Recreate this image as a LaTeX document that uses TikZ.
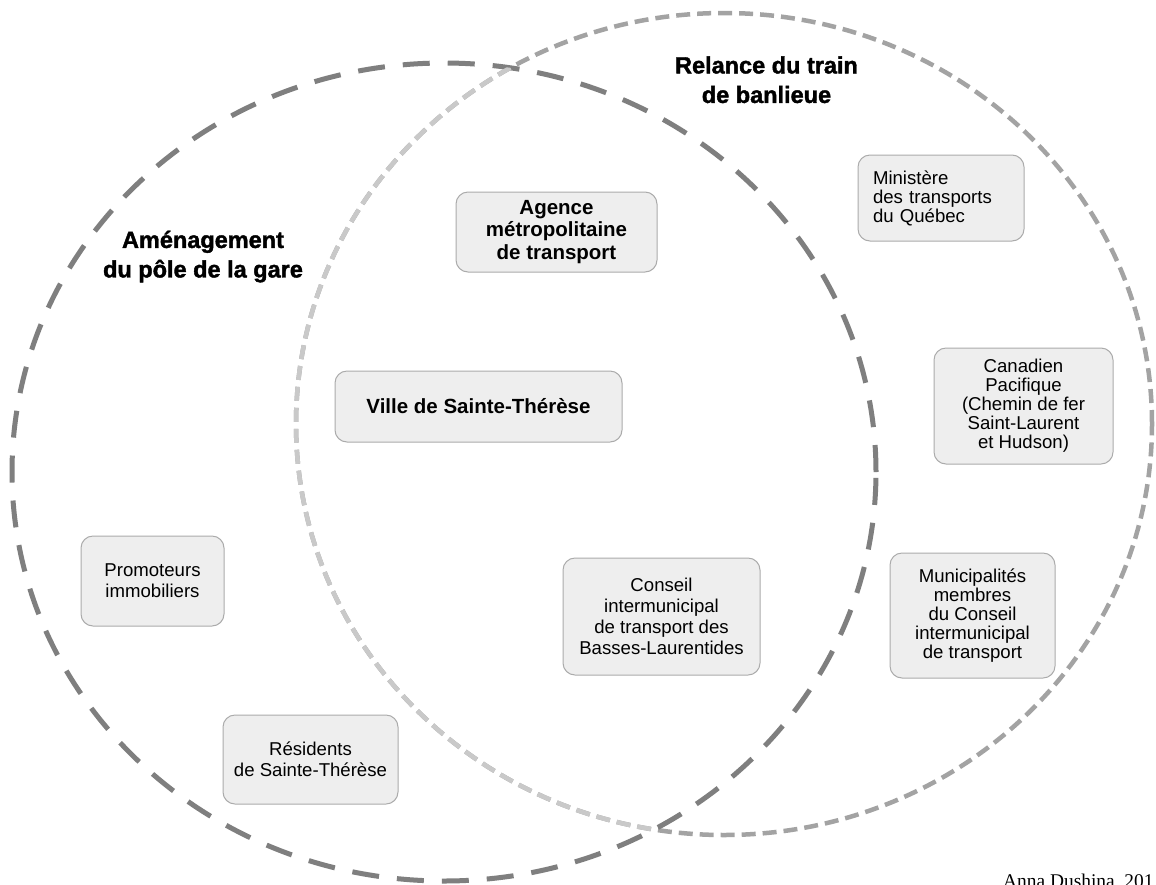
\documentclass[tikz,border=0pt]{standalone}
\usepackage{fontspec}
\setmainfont{Liberation Sans}
\newfontfamily\creditfont{Liberation Serif}
\newfontfamily\headfont[FakeBold=1.6]{Liberation Sans}
\definecolor{boxfill}{HTML}{EEEEEE}
\definecolor{boxline}{HTML}{ABABAB}
\definecolor{ringdark}{HTML}{7F7F7F}
\definecolor{ringmid}{HTML}{A3A3A3}
\definecolor{ringlight}{HTML}{C9C9C9}
\tikzset{
  actor/.style={draw=boxline, line width=1pt, fill=boxfill, rounded corners=12pt,
    inner sep=0pt, align=center, font=\fontsize{18.6}{21}\selectfont},
  actortight/.style={actor, font=\fontsize{18.6}{19}\selectfont},
  actorbold/.style={actor, font=\bfseries\fontsize{20.5}{22.5}\selectfont},
  heading/.style={align=center, inner sep=0pt, anchor=north,
    font=\headfont\bfseries\fontsize{23.5}{29.5}\selectfont},
  ringL/.style={draw=ringdark, line width=5pt, dash pattern=on 27pt off 18pt},
  ringR/.style={draw=ringmid, line width=4.5pt, dash pattern=on 14pt off 7pt},
  ringRlight/.style={ringR, draw=ringlight},
}
\begin{document}
\begin{tikzpicture}[x=1pt, y=-1pt]
\useasboundingbox (0,0) rectangle (1156,884);
\fill[white] (0,0) rectangle (1156,884);

% circles
\draw[ringR] (724,424) ellipse [x radius=428pt, y radius=411pt];
\draw[ringL] (444,472) ellipse [x radius=432pt, y radius=409pt];
\begin{scope}
  \clip (444,472) ellipse [x radius=432pt, y radius=409pt];
  \draw[ringRlight] (724,424) ellipse [x radius=428pt, y radius=411pt];
\end{scope}

% headings
\node[heading] (hrel) at (766.5,56.2) {Relance du train\\de banlieue};
\node[heading] (hame) at (203,230.5) {Aménagement\\du pôle de la gare};

% actors
\node[actorbold, minimum width=201pt, minimum height=80pt] (amt) at (556.5,232)
  {Agence\\métropolitaine\\de transport};
\node[actorbold, minimum width=287pt, minimum height=71pt] (ville) at (478.5,406.5)
  {Ville de Sainte-Thérèse};
\node[actortight, align=left, text width=136pt, inner xsep=15pt, minimum height=86pt] (mtq) at (941,198)
  {Ministère\\des transports\\du Québec};
\node[actortight, minimum width=179pt, minimum height=116pt] (cp) at (1023.5,406)
  {Canadien\\Pacifique\\(Chemin de fer\\Saint-Laurent\\et Hudson)};
\node[actortight, minimum width=165pt, minimum height=125pt] (muni) at (972.5,615.5)
  {Municipalités\\membres\\du Conseil\\intermunicipal\\de transport};
\node[actor, minimum width=197pt, minimum height=117pt] (citl) at (661.5,616.5)
  {Conseil\\intermunicipal\\de transport des\\Basses-Laurentides};
\node[actor, minimum width=143pt, minimum height=90pt] (promo) at (152.5,581)
  {Promoteurs\\immobiliers};
\node[actor, minimum width=175pt, minimum height=89pt] (resid) at (310.5,759.5)
  {Résidents\\de Sainte-Thérèse};

% credit
\node[anchor=base west, inner sep=0pt, font=\creditfont\fontsize{19.4}{20}\selectfont] (credit)
  at (1003,887.5) {Anna Dushina, 201};
\end{tikzpicture}
\end{document}
